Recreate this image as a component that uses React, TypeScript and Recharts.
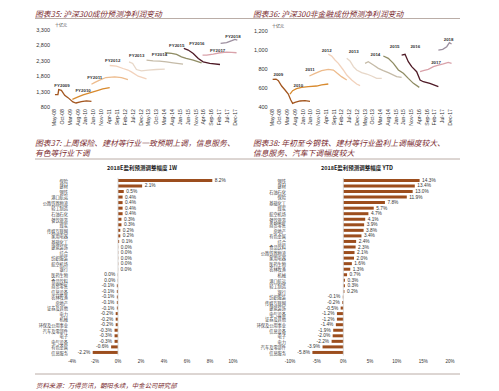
import React from 'react';
import {
  LineChart, Line, XAxis, YAxis, ReferenceDot, BarChart, Bar, LabelList, ReferenceLine,
} from 'recharts';

// month index 0 = May-08
const dateTicks = [0, 5, 10, 15, 20, 25, 30, 35, 40, 45, 50, 55, 60, 65, 70, 75, 80, 85, 90, 95, 100, 105, 110, 115];
const dateLabels = ['May-08', 'Oct-08', 'Mar-09', 'Aug-09', 'Jan-10', 'Jun-10', 'Nov-10', 'Apr-11', 'Sep-11', 'Feb-12', 'Jul-12', 'Dec-12',
  'May-13', 'Oct-13', 'Mar-14', 'Aug-14', 'Jan-15', 'Jun-15', 'Nov-15', 'Apr-16', 'Sep-16', 'Feb-17', 'Jul-17', 'Dec-17'];

const ticks35 = [800, 1300, 1800, 2300, 2800, 3300];
const ticks36 = [400, 600, 800, 1000, 1200];

// 沪深300 成份预测净利润 (十亿元)
const fy2009a = [{ m: 0.6, v: 1200 }, { m: 2.5, v: 1200 }, { m: 3, v: 1365 }, { m: 4.7, v: 1343 }, { m: 6.8, v: 1180 }, { m: 8.9, v: 1104 }, { m: 12, v: 963 }, { m: 14, v: 930 }, { m: 17.4, v: 974 }, { m: 20.6, v: 996 }, { m: 23.8, v: 985 }];
const fy2010a = [{ m: 11.7, v: 1050 }, { m: 15.3, v: 1126 }, { m: 18.5, v: 1191 }, { m: 22.7, v: 1257 }, { m: 27, v: 1322 }, { m: 31, v: 1387 }, { m: 35.4, v: 1430 }];
const fy2011a = [{ m: 23.8, v: 1539 }, { m: 26, v: 1600 }, { m: 29, v: 1670 }, { m: 33, v: 1757 }, { m: 38.6, v: 1778 }, { m: 42.9, v: 1757 }, { m: 47, v: 1691 }];
const fy2012a = [{ m: 35.4, v: 2148 }, { m: 39.7, v: 2126 }, { m: 43.9, v: 2050 }, { m: 47, v: 2000 }, { m: 49.2, v: 1941 }, { m: 53.5, v: 1800 }, { m: 58.8, v: 1713 }];
const fy2013a = [{ m: 47.7, v: 2267 }, { m: 50, v: 2213 }, { m: 52.4, v: 2017 }, { m: 55.6, v: 1974 }, { m: 59.8, v: 1996 }, { m: 65, v: 2017 }, { m: 70.4, v: 2028 }];
const fy2014a = [{ m: 58.8, v: 2322 }, { m: 63, v: 2300 }, { m: 67, v: 2289 }, { m: 71.5, v: 2267 }, { m: 75.7, v: 2235 }, { m: 82, v: 2191 }];
const fy2015a = [{ m: 70.4, v: 2561 }, { m: 74.7, v: 2539 }, { m: 77.9, v: 2507 }, { m: 81, v: 2430 }, { m: 84, v: 2376 }, { m: 88.5, v: 2322 }, { m: 93.8, v: 2235 }];
const fy2016a = [{ m: 82.5, v: 2702 }, { m: 85.3, v: 2648 }, { m: 88.5, v: 2539 }, { m: 91.7, v: 2376 }, { m: 94.8, v: 2267 }, { m: 99, v: 2213 }, { m: 105.5, v: 2180 }];
const fy2017a = [{ m: 94.4, v: 2485 }, { m: 97, v: 2485 }, { m: 101.2, v: 2517 }, { m: 105.5, v: 2561 }, { m: 109.7, v: 2583 }, { m: 113, v: 2572 }, { m: 116, v: 2561 }];
const fy2018a = [{ m: 105.9, v: 2865 }, { m: 109.7, v: 2887 }, { m: 113, v: 2952 }, { m: 115, v: 2996 }, { m: 116.5, v: 2974 }];

// 沪深300 非金融成份预测净利润 (十亿元)
const fy2009b = [{ m: 0.6, v: 690 }, { m: 2.8, v: 693 }, { m: 4.3, v: 676 }, { m: 6.4, v: 620 }, { m: 8.6, v: 578 }, { m: 10.7, v: 536 }, { m: 12.3, v: 473 }, { m: 13.5, v: 438 }, { m: 15, v: 449 }, { m: 18.3, v: 463 }, { m: 21.5, v: 466 }, { m: 24.7, v: 459 }];
const fy2010b = [{ m: 11.8, v: 536 }, { m: 13.5, v: 571 }, { m: 16, v: 592 }, { m: 19.3, v: 606 }, { m: 23.6, v: 613 }, { m: 29, v: 620 }, { m: 32.2, v: 631 }, { m: 36.5, v: 641 }];
const fy2011b = [{ m: 24.3, v: 725 }, { m: 28, v: 753 }, { m: 32.2, v: 781 }, { m: 36.5, v: 795 }, { m: 39.8, v: 788 }, { m: 42.3, v: 753 }, { m: 45, v: 718 }, { m: 48.4, v: 683 }];
const fy2012b = [{ m: 36.5, v: 955 }, { m: 38.7, v: 934 }, { m: 40.8, v: 893 }, { m: 43, v: 858 }, { m: 46.2, v: 788 }, { m: 48.4, v: 735 }, { m: 51.6, v: 683 }, { m: 54.8, v: 641 }, { m: 57, v: 624 }];
const fy2013b = [{ m: 48.4, v: 910 }, { m: 50.5, v: 882 }, { m: 52.7, v: 823 }, { m: 54.8, v: 788 }, { m: 58, v: 760 }, { m: 61.3, v: 746 }, { m: 64.5, v: 725 }, { m: 67.7, v: 700 }, { m: 71, v: 700 }];
const fy2014b = [{ m: 60.2, v: 858 }, { m: 62.3, v: 875 }, { m: 65.6, v: 840 }, { m: 68.8, v: 805 }, { m: 72, v: 781 }, { m: 75.2, v: 760 }, { m: 80.6, v: 718 }, { m: 83.8, v: 711 }];
const fy2015b = [{ m: 72, v: 935 }, { m: 75.2, v: 910 }, { m: 78.5, v: 858 }, { m: 81.7, v: 788 }, { m: 84.9, v: 753 }, { m: 88.1, v: 700 }, { m: 91.4, v: 648 }, { m: 95.2, v: 606 }];
const fy2016b = [{ m: 83.8, v: 945 }, { m: 86, v: 952 }, { m: 88.1, v: 875 }, { m: 90.3, v: 823 }, { m: 93.5, v: 770 }, { m: 95.7, v: 683 }, { m: 97.8, v: 665 }, { m: 102, v: 648 }, { m: 107.5, v: 613 }];
const fy2017b = [{ m: 95.7, v: 770 }, { m: 97.8, v: 781 }, { m: 101, v: 795 }, { m: 104.3, v: 823 }, { m: 107.5, v: 840 }, { m: 110.7, v: 851 }, { m: 113.9, v: 868 }, { m: 116, v: 858 }];
const fy2018b = [{ m: 107.5, v: 997 }, { m: 110.3, v: 1004 }, { m: 112.9, v: 1032 }, { m: 114.6, v: 1074 }, { m: 116, v: 1060 }];

const colors = ['#A3561F', '#D88A2E', '#EDBB8C', '#F2D2BC', '#E7D7C8', '#C5BBA8', '#8F8C64', '#4E1A26', '#D9A2AA', '#9C8E9E'];

const series35 = [
  { name: 'FY2009', data: fy2009a, lm: 5.1, lv: 1485 },
  { name: 'FY2010', data: fy2010a, lm: 18.5, lv: 1322 },
  { name: 'FY2011', data: fy2011a, lm: 25.9, lv: 1757 },
  { name: 'FY2012', data: fy2012a, lm: 37.3, lv: 2300 },
  { name: 'FY2013', data: fy2013a, lm: 52.6, lv: 2485 },
  { name: 'FY2014', data: fy2014a, lm: 67, lv: 2507 },
  { name: 'FY2015', data: fy2015a, lm: 78, lv: 2789 },
  { name: 'FY2016', data: fy2016a, lm: 90.8, lv: 2865 },
  { name: 'FY2017', data: fy2017a, lm: 104, lv: 2626 },
  { name: 'FY2018', data: fy2018a, lm: 113.7, lv: 3104 },
];
const series36 = [
  { name: '2009', data: fy2009b, lm: 4.3, lv: 746 },
  { name: '2010', data: fy2010b, lm: 17.2, lv: 627 },
  { name: '2011', data: fy2011b, lm: 24.7, lv: 788 },
  { name: '2012', data: fy2012b, lm: 35.5, lv: 997 },
  { name: '2013', data: fy2013b, lm: 52.9, lv: 980 },
  { name: '2014', data: fy2014b, lm: 66.9, lv: 955 },
  { name: '2015', data: fy2015b, lm: 79.3, lv: 1032 },
  { name: '2016', data: fy2016b, lm: 92.6, lv: 1032 },
  { name: '2017', data: fy2017b, lm: 106, lv: 865 },
  { name: '2018', data: fy2018b, lm: 114.1, lv: 1109 },
];

// 2018E 盈利预测调整幅度 (%)
const cats1W = ['保险', '建材', '钢铁', '港口航运', '公路铁路物流', '轻工制造', '石油石化', '餐饮旅游', '煤炭', '传媒互联网', '家用电器', '基础化工', '建筑装饰', '综合', '纺织服装', '航空机场', '银行', '医药生物', '食品饮料', '商贸零售', '信息设备', '农林牧渔', '房地产', '证券及其他', '电力', '机械', '环保及公用事业', '汽车及零部件', '电子', '电气设备', '有色金属', '信息服务'];
const vals1W = [8.2, 2.1, 0.5, 0.4, 0.4, 0.4, 0.4, 0.3, 0.3, 0.2, 0.2, 0.1, 0.02, 0.02, 0.02, 0.02, 0.01, -0.02, -0.02, -0.1, -0.1, -0.1, -0.1, -0.1, -0.2, -0.2, -0.2, -0.3, -0.3, -0.3, -0.6, -2.2];
const ticks1W = [-4, -2, 0, 2, 4, 6, 8, 10];

const catsYTD = ['钢铁', '建材', '石油石化', '保险', '基础化工', '煤炭', '航空机场', '餐饮旅游', '商贸零售', '房地产', '有色金属', '综合', '食品饮料', '公路铁路物流', '家用电器', '医药生物', '农林牧渔', '机械', '港口航运', '轻工制造', '银行', '纺织服装', '传媒互联网', '建筑装饰', '电气设备', '证券及其他', '环保及公用事业', '信息设备', '电子', '电力', '汽车及零部件', '信息服务'];
const valsYTD = [14.3, 13.4, 13.0, 11.9, 7.8, 5.7, 4.7, 4.1, 3.9, 3.8, 3.4, 2.4, 2.3, 2.1, 2.0, 1.6, 1.3, 0.7, 0.3, 0.3, 0.2, -0.1, -0.2, -0.5, -1.2, -1.2, -1.4, -1.9, -2.0, -2.2, -3.9, -5.8];
const ticksYTD = [-10, -5, 0, 5, 10, 15, 20];

const data1W = cats1W.map((c, i) => ({ c, v: vals1W[i] }));
const dataYTD = catsYTD.map((c, i) => ({ c, v: valsYTD[i] }));

const LATIN = 'Liberation Sans, Arial, sans-serif';
const CJK = '"Noto Sans CJK SC", sans-serif';
const TITLE = '#7A2A2E';

const DateTick = (props: any) => {
  const { x, y, payload } = props;
  const idx = dateTicks.indexOf(payload.value);
  return (
    <text x={x} y={y} transform={`rotate(-90 ${x} ${y})`} textAnchor="end" dominantBaseline="central"
      fontSize={5.2} fill="#333" fontFamily={LATIN}>{dateLabels[idx]}</text>
  );
};

const CategoryTick = (props: any) => {
  const { x, y, payload } = props;
  return (
    <text x={x} y={y} textAnchor="end" dominantBaseline="central" fontSize={4.2} fill="#444" fontFamily={CJK}>
      {payload.value}
    </text>
  );
};

const fmtThousands = (v: number) => v.toLocaleString('en-US');

const SeriesLabel = (name: string) => (props: any) => (
  <text x={props.cx} y={props.cy} textAnchor="middle" dominantBaseline="central" fontSize={4.4}
    fontWeight="bold" fill="#333" fontFamily={LATIN}>{name}</text>
);

const fmtPct = (v: number) => (Math.abs(v) < 0.05 ? '0.0%' : `${v.toFixed(1)}%`);

const ValueLabel = (props: any) => {
  const { x, y, width, height, value } = props;
  const x0 = Number(x);
  const w = Number(width);
  const v = Number(value);
  const end = v >= 0 ? Math.max(x0, x0 + w) : Math.min(x0, x0 + w);
  const tx = v >= 0 ? end + 2.5 : end - 2.5;
  return (
    <text x={tx} y={Number(y) + Number(height) / 2} textAnchor={v >= 0 ? 'start' : 'end'} dominantBaseline="central"
      fontSize={4.8} fill="#333" fontFamily={LATIN}>{fmtPct(v)}</text>
  );
};

function TrendChart({ series, ticks, domain, width, yWidth, right, top }: any) {
  return (
    <LineChart width={width} height={115} margin={{ top, right, bottom: 0, left: 0 }}>
      <XAxis type="number" dataKey="m" domain={[0, 117]} ticks={dateTicks} tick={<DateTick />}
        axisLine={false} tickLine={false} tickSize={2} tickMargin={0} height={28} interval={0} allowDuplicatedCategory={false} />
      <YAxis type="number" domain={domain} ticks={ticks} tickFormatter={fmtThousands} width={yWidth}
        axisLine={false} tickLine={false} tickSize={4} tickMargin={0} interval={0}
        tick={{ fontSize: 5.5, fill: '#333', fontFamily: LATIN }} />
      {series.map((s: any, i: number) => (
        <Line key={s.name} data={s.data} dataKey="v" type="linear" stroke={colors[i]} strokeWidth={1.3}
          dot={false} activeDot={false} isAnimationActive={false} />
      ))}
      {series.map((s: any) => (
        <ReferenceDot key={`l${s.name}`} x={s.lm} y={s.lv} r={0} shape={SeriesLabel(s.name)} />
      ))}
    </LineChart>
  );
}

function AdjChart({ data, ticks, domain, yWidth, right, width }: any) {
  return (
    <BarChart width={width} height={210} data={data} layout="vertical"
      margin={{ top: 17.9, right, bottom: 2.5, left: 0 }} barCategoryGap={0}>
      <XAxis type="number" domain={domain} ticks={ticks} tickFormatter={(v: number) => `${v}%`}
        axisLine={false} tickLine={false} tickSize={3} tickMargin={1} height={12} interval={0}
        tick={{ fontSize: 4.5, fill: '#333', fontFamily: LATIN }} />
      <YAxis type="category" dataKey="c" width={yWidth} axisLine={false} tickLine={false} tickSize={4} tickMargin={0}
        interval={0} tick={<CategoryTick />} />
      <ReferenceLine x={0} stroke="#cfcfcf" strokeWidth={0.8} />
      <Bar dataKey="v" fill="#9C4E1E" barSize={3} isAnimationActive={false}>
        <LabelList dataKey="v" content={<ValueLabel />} />
      </Bar>
    </BarChart>
  );
}

export default function App() {
  const titleStyle = { fontFamily: CJK, fontStyle: 'italic' as const, fontSize: 7.8, fill: TITLE };
  return (
    <div style={{ position: 'absolute', left: 0, top: 0, width: 499, height: 391, background: '#fff', overflow: 'hidden' }}>
      <svg width={499} height={391} style={{ position: 'absolute', left: 0, top: 0 }}>
        <text x={35} y={13} dominantBaseline="central" {...titleStyle}>图表35: 沪深300成份预测净利润变动</text>
        <text x={253} y={13} dominantBaseline="central" {...titleStyle}>图表36: 沪深300非金融成份预测净利润变动</text>
        <line x1={35} x2={460} y1={18.5} y2={18.5} stroke="#A89890" strokeWidth={0.8} />
        <text x={35} y={142.5} dominantBaseline="central" {...titleStyle}>图表37: 上周保险、建材等行业一致预期上调，信息服务、</text>
        <text x={35} y={152} dominantBaseline="central" {...titleStyle}>有色等行业下调</text>
        <text x={253} y={142.5} dominantBaseline="central" {...titleStyle}>图表38: 年初至今钢铁、建材等行业盈利上调幅度较大、</text>
        <text x={253} y={152} dominantBaseline="central" {...titleStyle}>信息服务、汽车下调幅度较大</text>
        <line x1={35} x2={460} y1={159} y2={159} stroke="#A89890" strokeWidth={0.8} />
        <line x1={35} x2={460} y1={374} y2={374} stroke="#A89890" strokeWidth={0.8} />
        <text x={36} y={385} dominantBaseline="central" fontFamily={CJK} fontStyle="italic" fontSize={6.4} fill={TITLE}>资料来源：万得资讯，朝阳永续，中金公司研究部</text>
        <text x={61} y={25} textAnchor="middle" dominantBaseline="central" fontFamily={CJK} fontSize={4} fill="#333">十亿元</text>
        <text x={278} y={26} textAnchor="middle" dominantBaseline="central" fontFamily={CJK} fontSize={4} fill="#333">十亿元</text>
        <text x={142} y={168} textAnchor="middle" dominantBaseline="central" fontFamily={CJK} fontWeight="bold" fontSize={5.5} fill="#222">2018E盈利预测调整幅度 1W</text>
        <text x={357} y={168} textAnchor="middle" dominantBaseline="central" fontFamily={CJK} fontWeight="bold" fontSize={5.5} fill="#222">2018E盈利预测调整幅度 YTD</text>
      </svg>
      <div style={{ position: 'absolute', left: 0, top: 20 }}>
        <TrendChart series={series35} ticks={ticks35} domain={[800, 3300]} width={250} yWidth={54} right={11.9} top={10} />
      </div>
      <div style={{ position: 'absolute', left: 250, top: 20 }}>
        <TrendChart series={series36} ticks={ticks36} domain={[400, 1200]} width={249} yWidth={21.7} right={45.9} top={10.7} />
      </div>
      <div style={{ position: 'absolute', left: 0, top: 160 }}>
        <AdjChart data={data1W} ticks={ticks1W} domain={[-4, 10]} yWidth={72} right={17} width={250} />
      </div>
      <div style={{ position: 'absolute', left: 250, top: 160 }}>
        <AdjChart data={dataYTD} ticks={ticksYTD} domain={[-10, 20]} yWidth={40} right={49} width={249} />
      </div>
    </div>
  );
}
